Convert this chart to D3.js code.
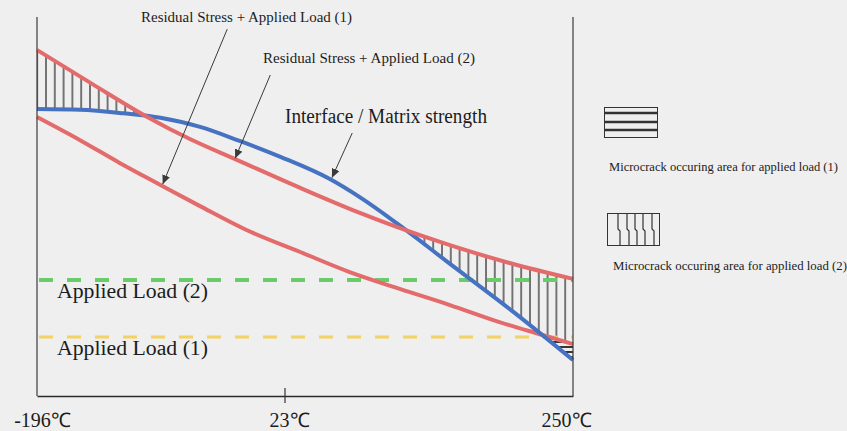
<!DOCTYPE html>
<html lang="en">
<head>
  <meta charset="UTF-8">
  <title>Microcrack occurring area</title>
  <style>
    body { margin: 0; background: #efefef; }
    svg { display: block; font-family: "Liberation Serif", "Times New Roman", serif; }
  </style>
</head>
<body>
  <script src="https://cdn.jsdelivr.net/npm/d3@7"></script>
  <script>
    // temperatures (°C) and stress (arbitrary units, 0-100)
    let tempTicks = [-196, 23, 250];

    let load2Temps = [-196, -147, -99, -61, -21, 35, 82, 111, 153, 200, 250];
    let load2Stress = [91.3, 82.3, 73.7, 67.8, 62.5, 54.9, 48.3, 44.6, 39.8, 35.1, 30.9];

    let strengthTemps = [-196, -158, -123, -87, -52, -17, 19, 58, 84, 111, 151, 203, 250];
    let strengthValues = [75.7, 75.5, 74.7, 73.4, 71.0, 67.3, 63.1, 57.3, 52.0, 45.6, 35.4, 22.2, 9.5];

    let load1Temps = [-196, -158, -123, -87, -52, -11, 35, 74, 114, 153, 192, 226, 250];
    let load1Stress = [73.6, 67.5, 61.5, 55.7, 50.1, 43.8, 38.0, 32.7, 28.2, 24.0, 19.5, 16.1, 13.7];

    let appliedLoads = [30.6, 15.6]; // (2), (1)
    let appliedNames = ["Applied Load (2)", "Applied Load (1)"];

    let width = 847, height = 431;
    let x = d3.scaleLinear().domain(tempTicks).range([37, 285, 573]);
    let y = d3.scaleLinear().domain([0, 100]).range([396, 17]);

    let pts = (ts, vs) => ts.map((t, i) => ({ t: t, v: vs[i] }));
    let load2 = pts(load2Temps, load2Stress);
    let strength = pts(strengthTemps, strengthValues);
    let load1 = pts(load1Temps, load1Stress);

    let svg = d3.select("body").append("svg")
      .attr("width", width)
      .attr("height", height);
    svg.append("rect").attr("width", width).attr("height", height).attr("fill", "#efefef");

    let curve = d3.curveMonotoneX;
    let line = d3.line().x(d => x(d.t)).y(d => y(d.v)).curve(curve);
    let under = d3.area().x(d => x(d.t)).y0(y(0)).y1(d => y(d.v)).curve(curve);
    let over = d3.area().x(d => x(d.t)).y0(y(100)).y1(d => y(d.v)).curve(curve);

    let defs = svg.append("defs");
    // hatch patterns
    let vp = defs.append("pattern").attr("id", "vhatch")
      .attr("patternUnits", "userSpaceOnUse")
      .attr("x", 45).attr("y", 0).attr("width", 8.8).attr("height", 10);
    vp.append("line").attr("x1", 1).attr("x2", 1).attr("y1", 0).attr("y2", 10)
      .attr("stroke", "#333").attr("stroke-width", 1.3);
    let hp = defs.append("pattern").attr("id", "hhatch")
      .attr("patternUnits", "userSpaceOnUse")
      .attr("x", 0).attr("y", 341).attr("width", 10).attr("height", 5);
    hp.append("line").attr("x1", 0).attr("x2", 10).attr("y1", 1).attr("y2", 1)
      .attr("stroke", "#222").attr("stroke-width", 1.8);

    let clips = [
      ["underLoad2", under(load2)],
      ["underLoad1", under(load1)],
      ["overStrength", over(strength)],
      ["overLoad1", over(load1)]
    ];
    clips.forEach(c => {
      defs.append("clipPath").attr("id", c[0]).append("path").attr("d", c[1]);
    });

    defs.append("marker").attr("id", "arrow")
      .attr("markerUnits", "userSpaceOnUse")
      .attr("markerWidth", 10).attr("markerHeight", 8)
      .attr("refX", 9).attr("refY", 4)
      .attr("orient", "auto")
      .append("path").attr("d", "M0,0 L9,4 L0,8 Z").attr("fill", "#3a3a3a");

    // microcrack area, load (2): vertical hatch
    svg.append("g").attr("clip-path", "url(#underLoad2)")
      .append("g").attr("clip-path", "url(#overStrength)")
      .append("g").attr("clip-path", "url(#overLoad1)")
      .append("rect")
      .attr("x", x(-196)).attr("y", y(100))
      .attr("width", x(250) - x(-196)).attr("height", y(0) - y(100))
      .attr("fill", "url(#vhatch)");

    // microcrack area, load (1): horizontal hatch
    svg.append("g").attr("clip-path", "url(#underLoad1)")
      .append("g").attr("clip-path", "url(#overStrength)")
      .append("rect")
      .attr("x", x(-196)).attr("y", y(100))
      .attr("width", x(250) - x(-196)).attr("height", y(0) - y(100))
      .attr("fill", "url(#hhatch)");

    // applied load lines
    let loadColors = ["#6acb6a", "#f3d163"];
    svg.selectAll(".applied")
      .data(appliedLoads)
      .enter()
      .append("line")
      .attr("class", "applied")
      .attr("x1", x(-196) + 2).attr("x2", x(250))
      .attr("y1", d => y(d)).attr("y2", d => y(d))
      .attr("stroke", (d, i) => loadColors[i])
      .attr("stroke-width", (d, i) => i == 0 ? 4 : 3)
      .attr("stroke-dasharray", "14,14");

    svg.selectAll(".appliedLabel")
      .data(appliedLoads)
      .enter()
      .append("text")
      .attr("x", 57)
      .attr("y", d => y(d) + 18)
      .attr("font-size", 20.5)
      .attr("fill", "#1c1c1c")
      .attr("textLength", 151)
      .attr("lengthAdjust", "spacingAndGlyphs")
      .text((d, i) => appliedNames[i]);

    // curves
    svg.append("path").attr("d", line(load1))
      .attr("fill", "none").attr("stroke", "#e46b6b").attr("stroke-width", 4);
    svg.append("path").attr("d", line(strength))
      .attr("fill", "none").attr("stroke", "#4672c2").attr("stroke-width", 4);
    svg.append("path").attr("d", line(load2))
      .attr("fill", "none").attr("stroke", "#e46b6b").attr("stroke-width", 4);

    // frame
    svg.selectAll(".side")
      .data([-196, 250])
      .enter()
      .append("line")
      .attr("x1", d => x(d)).attr("x2", d => x(d))
      .attr("y1", y(100)).attr("y2", y(0))
      .attr("stroke", "#3a3a3a").attr("stroke-width", 1.2);

    let tickShift = [5, 4, -7];
    let axis = svg.append("g")
      .attr("transform", "translate(0," + y(0) + ")")
      .call(d3.axisBottom(x).tickValues(tempTicks).tickSize(0).tickFormat(d => d + "℃"));
    axis.select(".domain").attr("stroke", "#2a2a2a").attr("stroke-width", 1.6);
    axis.selectAll("text")
      .attr("y", 31).attr("dy", 0)
      .attr("dx", (d, i) => tickShift[i])
      .attr("font-size", 20)
      .attr("font-family", "Liberation Serif, serif")
      .attr("fill", "#1c1c1c");
    svg.append("line")
      .attr("x1", x(23)).attr("x2", x(23))
      .attr("y1", y(0) - 8).attr("y2", y(0) + 7)
      .attr("stroke", "#333").attr("stroke-width", 1.2);

    // annotations with arrows
    let notes = [
      { text: "Residual Stress + Applied Load (1)", tx: 141, ty: 22, size: 14, len: 211, from: [-28, 96.8], to: [-85, 55.9] },
      { text: "Residual Stress + Applied Load (2)", tx: 263, ty: 63, size: 14, len: 212, from: [10, 84.7], to: [-21, 62.7] },
      { text: "Interface / Matrix strength", tx: 285, ty: 123, size: 20.5, len: 202, from: [76, 69.4], to: [60, 57.6] }
    ];
    svg.selectAll(".noteText")
      .data(notes)
      .enter()
      .append("text")
      .attr("x", d => d.tx).attr("y", d => d.ty)
      .attr("font-size", d => d.size)
      .attr("textLength", d => d.len)
      .attr("lengthAdjust", "spacingAndGlyphs")
      .attr("fill", "#1c1c1c")
      .text(d => d.text);
    svg.selectAll(".noteArrow")
      .data(notes)
      .enter()
      .append("line")
      .attr("x1", d => x(d.from[0])).attr("y1", d => y(d.from[1]))
      .attr("x2", d => x(d.to[0])).attr("y2", d => y(d.to[1]))
      .attr("stroke", "#3a3a3a").attr("stroke-width", 1)
      .attr("marker-end", "url(#arrow)");

    // legend
    let leg1 = svg.append("g");
    leg1.append("rect").attr("x", 604.5).attr("y", 107.5).attr("width", 53).attr("height", 30)
      .attr("fill", "none").attr("stroke", "#333").attr("stroke-width", 1);
    leg1.selectAll("line").data([113, 122, 130]).enter().append("line")
      .attr("x1", 605).attr("x2", 657).attr("y1", d => d).attr("y2", d => d)
      .attr("stroke", "#333").attr("stroke-width", 2.5);
    leg1.append("text").attr("x", 609).attr("y", 171)
      .attr("font-size", 12).attr("textLength", 229).attr("lengthAdjust", "spacingAndGlyphs")
      .attr("fill", "#1c1c1c")
      .text("Microcrack occuring area for applied load (1)");

    let leg2 = svg.append("g");
    leg2.append("rect").attr("x", 607.5).attr("y", 213.5).attr("width", 52).attr("height", 32)
      .attr("fill", "none").attr("stroke", "#333").attr("stroke-width", 1);
    leg2.selectAll("path").data([618, 627, 635, 643, 652]).enter().append("path")
      .attr("d", d => "M" + d + ",214 V229 L" + (d + 2) + ",231 V245")
      .attr("fill", "none").attr("stroke", "#333").attr("stroke-width", 1.2);
    leg2.append("text").attr("x", 613).attr("y", 270)
      .attr("font-size", 12).attr("textLength", 234).attr("lengthAdjust", "spacingAndGlyphs")
      .attr("fill", "#1c1c1c")
      .text("Microcrack occuring area for applied load (2)");
  </script>
</body>
</html>
